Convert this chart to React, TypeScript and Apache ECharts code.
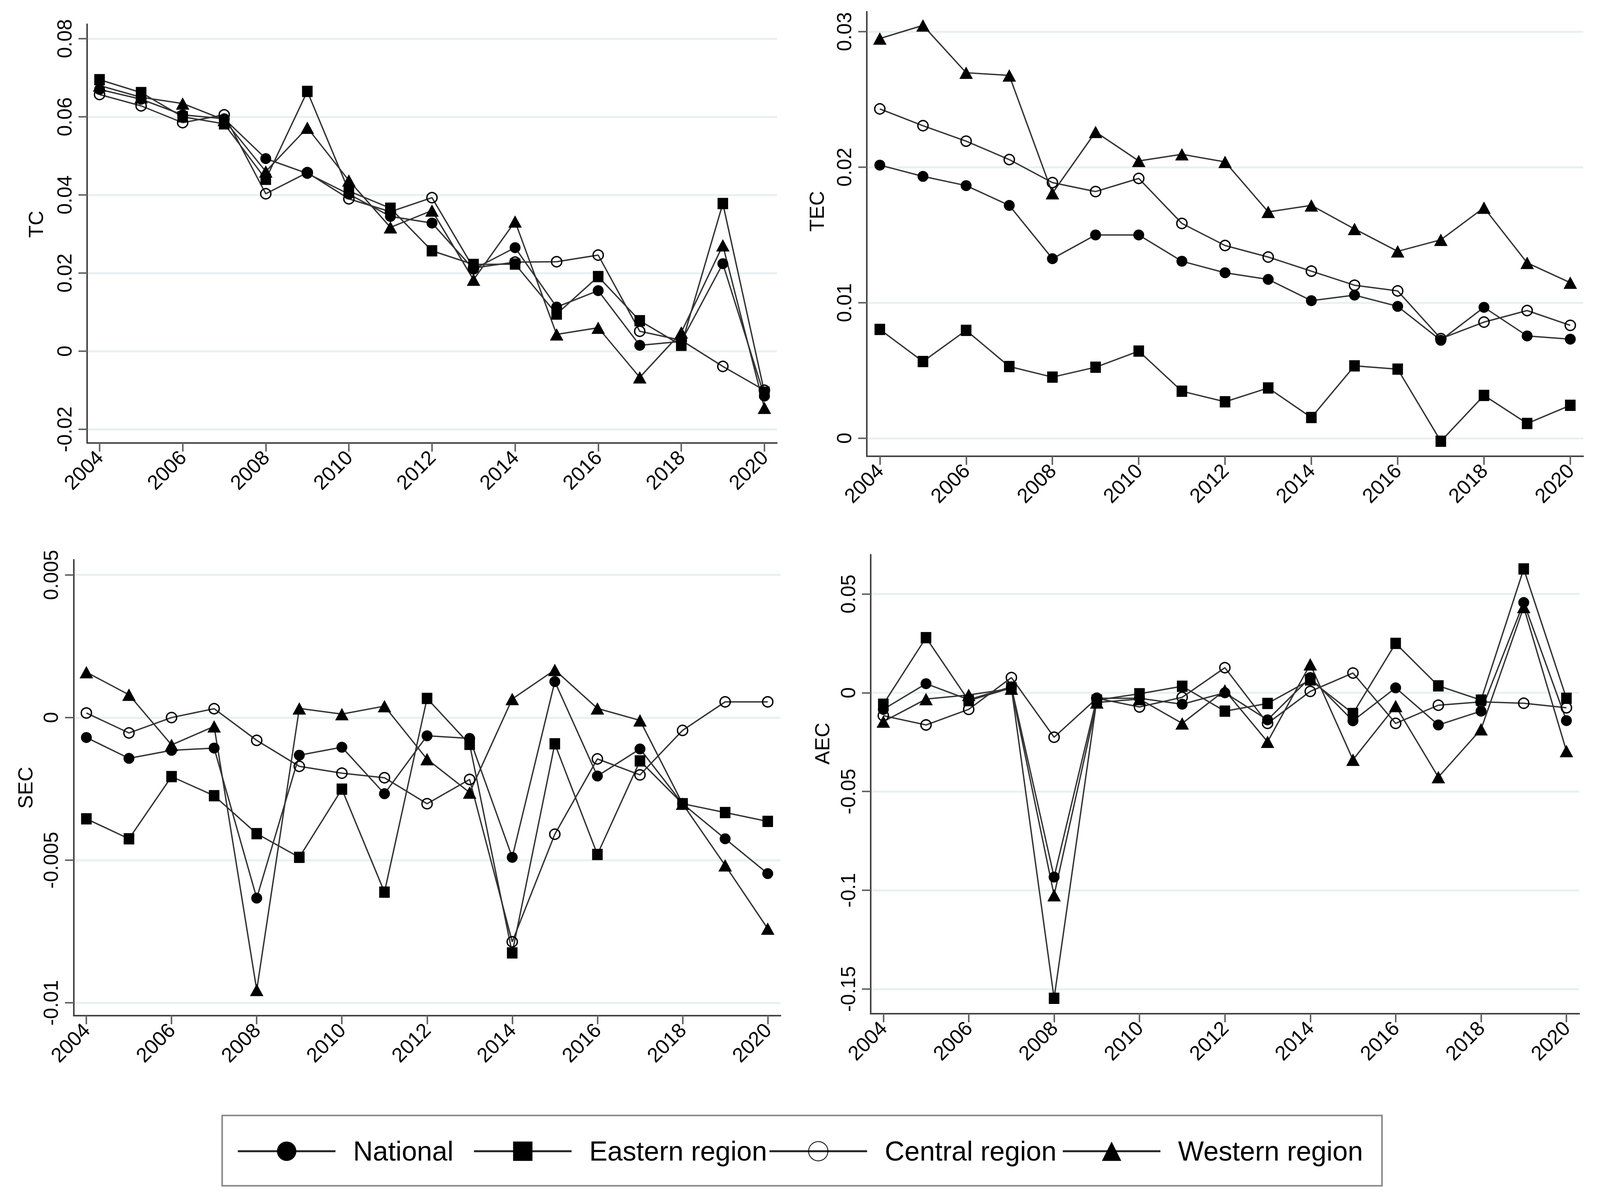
import React, { useEffect, useRef } from "react";
import * as echarts from "echarts";

const years = [2004, 2005, 2006, 2007, 2008, 2009, 2010, 2011, 2012, 2013, 2014, 2015, 2016, 2017, 2018, 2019, 2020];
const xTicks = [2004, 2006, 2008, 2010, 2012, 2014, 2016, 2018, 2020];
const seriesNames = ["National", "Eastern region", "Central region", "Western region"];

// TC
const tcNational = [0.067, 0.0645, 0.0605, 0.0595, 0.0493, 0.0455, 0.0402, 0.0345, 0.0328, 0.021, 0.0265, 0.0113, 0.0155, 0.0015, 0.0025, 0.0224, -0.0115];
const tcEastern = [0.0695, 0.0662, 0.06, 0.0582, 0.044, 0.0665, 0.041, 0.0366, 0.0257, 0.0222, 0.0223, 0.0095, 0.0191, 0.0078, 0.0015, 0.0378, -0.0105];
const tcCentral = [0.0657, 0.0628, 0.0585, 0.0605, 0.0403, 0.0457, 0.039, 0.0357, 0.0393, 0.0213, 0.0228, 0.0229, 0.0246, 0.0051, 0.0028, -0.0039, -0.01];
const tcWestern = [0.068, 0.065, 0.0634, 0.0592, 0.046, 0.0572, 0.0437, 0.0317, 0.036, 0.0183, 0.0332, 0.0043, 0.006, -0.0067, 0.0048, 0.0271, -0.0145];
const tcTicks = [-0.02, 0, 0.02, 0.04, 0.06, 0.08];

// TEC
const tecNational = [0.02015, 0.01932, 0.01864, 0.01718, 0.01325, 0.015, 0.015, 0.01306, 0.01221, 0.01172, 0.01015, 0.01056, 0.00973, 0.00723, 0.00966, 0.00755, 0.00731];
const tecEastern = [0.00803, 0.00566, 0.00796, 0.00529, 0.00451, 0.00524, 0.00643, 0.00347, 0.00269, 0.00371, 0.00153, 0.00534, 0.0051, -0.00022, 0.00316, 0.00109, 0.00243];
const tecCentral = [0.0243, 0.02306, 0.02192, 0.02056, 0.01886, 0.0182, 0.01917, 0.01585, 0.01422, 0.01337, 0.01233, 0.01129, 0.01087, 0.00735, 0.00857, 0.00942, 0.00833];
const tecWestern = [0.02949, 0.03046, 0.02697, 0.02677, 0.01808, 0.0226, 0.02046, 0.02095, 0.02039, 0.0167, 0.01718, 0.01544, 0.01379, 0.01464, 0.01701, 0.01294, 0.01148];
const tecTicks = [0, 0.01, 0.02, 0.03];

// SEC
const secNational = [-0.0007, -0.00143, -0.00115, -0.00107, -0.00633, -0.00132, -0.00104, -0.00267, -0.00064, -0.00073, -0.0049, 0.00126, -0.00205, -0.0011, -0.00302, -0.00425, -0.00547];
const secEastern = [-0.00355, -0.00425, -0.00207, -0.00274, -0.00407, -0.0049, -0.00251, -0.00612, 0.00067, -0.00094, -0.00825, -0.00092, -0.0048, -0.00152, -0.00302, -0.00333, -0.00364];
const secCentral = [0.00016, -0.00054, 0, 0.00031, -0.0008, -0.00171, -0.00195, -0.00211, -0.00302, -0.00217, -0.00786, -0.00409, -0.00145, -0.00201, -0.00045, 0.00055, 0.00055];
const secWestern = [0.00159, 0.0008, -0.00096, -0.00031, -0.00955, 0.00032, 0.00012, 0.0004, -0.00146, -0.00263, 0.00065, 0.00167, 0.00032, -0.0001, -0.00302, -0.00518, -0.0074];
const secTicks = [-0.01, -0.005, 0, 0.005];

// AEC
const aecNational = [-0.0084, 0.0046, -0.0035, 0.003, -0.0933, -0.0028, -0.0028, -0.0058, 0, -0.0137, 0.0077, -0.0142, 0.0025, -0.0163, -0.0093, 0.0457, -0.0141];
const aecEastern = [-0.0058, 0.0279, -0.004, 0.0025, -0.1547, -0.0037, -0.0005, 0.0033, -0.0093, -0.0054, 0.0065, -0.0105, 0.025, 0.0035, -0.0037, 0.0627, -0.0028];
const aecCentral = [-0.0116, -0.0163, -0.0084, 0.0077, -0.0225, -0.0028, -0.0072, -0.0023, 0.0127, -0.0155, 0.0007, 0.01, -0.0155, -0.0063, -0.0046, -0.0053, -0.0076];
const aecWestern = [-0.0146, -0.0032, -0.0011, 0.0021, -0.1025, -0.0049, -0.0032, -0.0155, 0.0012, -0.0248, 0.0144, -0.0339, -0.0067, -0.0427, -0.0185, 0.0434, -0.0295];
const aecTicks = [-0.15, -0.1, -0.05, 0, 0.05];

const FONT = "'Liberation Sans', Arial, Helvetica, sans-serif";
const REF_W = 4391;
const REF_H = 3077;

const panels = [
  { name: "TC", values: [tcNational, tcEastern, tcCentral, tcWestern], ticks: tcTicks, min: -0.0235, max: 0.0837,
    grid: { left: 239, top: 62, width: 1893, height: 1072 }, nameGap: 112, namePad: 48 },
  { name: "TEC", values: [tecNational, tecEastern, tecCentral, tecWestern], ticks: tecTicks, min: -0.00133, max: 0.03147,
    grid: { left: 2379, top: 30, width: 1966, height: 1138 }, nameGap: 110, namePad: 116 },
  { name: "SEC", values: [secNational, secEastern, secCentral, secWestern], ticks: secTicks, min: -0.01045, max: 0.00553,
    grid: { left: 202, top: 1433, width: 1940, height: 1167 }, nameGap: 104, namePad: 0 },
  { name: "AEC", values: [aecNational, aecEastern, aecCentral, aecWestern], ticks: aecTicks, min: -0.1625, max: 0.0699,
    grid: { left: 2389, top: 1420, width: 1945, height: 1175 }, nameGap: 104, namePad: 208 },
];

const legendLefts = [650, 1298, 2109, 2914];

export default function App() {
  const ref = useRef<HTMLDivElement>(null);

  useEffect(() => {
    if (!ref.current) return;
    const chart = echarts.init(ref.current, null, { renderer: "svg" });
    const sx = chart.getWidth() / REF_W;
    const sy = chart.getHeight() / REF_H;
    const fs = (v: number) => Math.round(v * sx * 10) / 10;

    const markerStyles: any[] = [
      { symbol: "circle", symbolSize: fs(30), itemStyle: { color: "#000" } },
      { symbol: "rect", symbolSize: [fs(29), fs(31)], itemStyle: { color: "#000" } },
      { symbol: "circle", symbolSize: fs(28), itemStyle: { color: "rgba(255,255,255,0)", borderColor: "#000", borderWidth: 3.5 } },
      { symbol: "triangle", symbolSize: [fs(37), fs(34)], itemStyle: { color: "#000" } },
    ];

    const grids = panels.map((p) => ({
      left: p.grid.left * sx,
      top: p.grid.top * sy,
      width: p.grid.width * sx,
      height: p.grid.height * sy,
      containLabel: false,
      outerBoundsMode: "none",
    }));
    const xAxes = panels.map((p, i) => ({
      type: "value",
      gridIndex: i,
      min: 2003.7,
      max: 2020.3,
      axisLine: { show: true, onZero: false, lineStyle: { color: "#444", width: 4 } },
      axisTick: { show: true, customValues: xTicks, length: 22, lineStyle: { color: "#666", width: 4 } },
      axisLabel: { customValues: xTicks, rotate: 45, margin: 28, fontSize: fs(56), color: "#000", fontFamily: FONT, formatter: (v: number) => String(v) },
      splitLine: { show: false },
    }));
    const yAxes = panels.map((p, i) => ({
      type: "value",
      gridIndex: i,
      min: p.min,
      max: p.max,
      name: p.name,
      nameLocation: "middle",
      nameGap: p.nameGap * sx,
      nameTextStyle: { fontSize: fs(56), color: "#000", fontFamily: FONT, padding: [0, 0, 0, p.namePad * sy] },
      axisLine: { show: true, onZero: false, lineStyle: { color: "#444", width: 4 } },
      axisTick: { show: true, customValues: p.ticks, length: 22, lineStyle: { color: "#666", width: 4 } },
      axisLabel: { customValues: p.ticks, rotate: 90, margin: 32, fontSize: fs(55), color: "#000", fontFamily: FONT, formatter: (v: number) => String(v) },
      splitLine: { show: true, lineStyle: { color: "#e8f0f2", width: 5 } },
    }));

    const series: any[] = [];
    panels.forEach((p, i) => {
      p.values.forEach((vals, k) => {
        series.push({
          type: "line",
          name: seriesNames[k],
          xAxisIndex: i,
          yAxisIndex: i,
          data: years.map((y, j) => [y, vals[j]]),
          ...markerStyles[k],
          showSymbol: true,
          lineStyle: { color: "#333", width: 3.5 },
          emphasis: { disabled: true },
        });
      });
    });

    const legends = seriesNames.map((n, k) => ({
      data: [n],
      left: legendLefts[k] * sx,
      top: 2943 * sy - 31,
      padding: 0,
      itemWidth: 268 * sx,
      itemHeight: 62,
      selectedMode: false,
      lineStyle: { width: 5, color: "#222" },
      textStyle: { fontSize: fs(75), color: "#000", fontFamily: FONT, padding: [0, 0, 0, 43 * sx] },
    }));

    chart.setOption({
      animation: false,
      backgroundColor: "#fff",
      grid: grids,
      xAxis: xAxes,
      yAxis: yAxes,
      series,
      legend: legends,
      graphic: [
        {
          type: "rect",
          left: 607 * sx,
          top: 2853 * sy,
          shape: { width: 3183 * sx, height: 180 * sy },
          style: { fill: "none", stroke: "#888", lineWidth: 4 },
          silent: true,
        },
      ],
    });

    return () => chart.dispose();
  }, []);

  return <div ref={ref} style={{ position: "fixed", left: 0, top: 0, width: "100vw", height: "100vh" }} />;
}
